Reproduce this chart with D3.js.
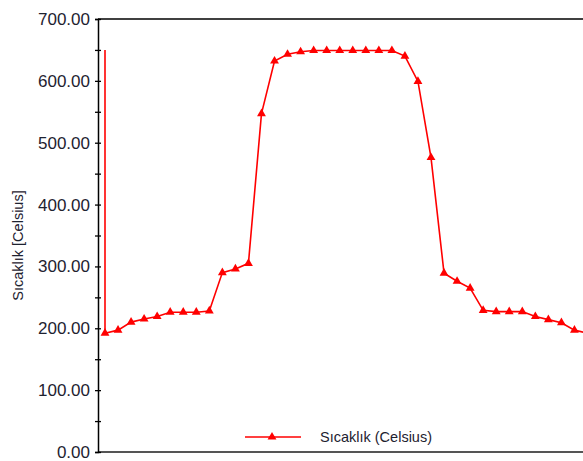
<!DOCTYPE html>
<html>
<head>
<meta charset="utf-8">
<script src="https://cdn.jsdelivr.net/npm/d3@7"></script>
<style>
  html, body { margin: 0; padding: 0; background: #fff; }
  svg { display: block; font-family: "Liberation Sans", Arial, sans-serif; }
</style>
</head>
<body>
<svg id="chart" width="583" height="461"></svg>
<script>
// temperature readings along the profile (one per station)
const temps = [192, 197, 210, 215, 219, 226, 226, 226, 228, 290, 296, 305, 547, 632, 643, 647,
               649, 649, 649, 649, 649, 649, 649, 640, 599, 476, 289, 276, 265, 229, 227, 227,
               227, 219, 214, 209, 197, 192];
// the series starts with a drop from this value at the first station
const leadValue = 650;
const yMajor = [0, 100, 200, 300, 400, 500, 600, 700];
const yMinor = [50, 150, 250, 350, 450, 550, 650];
const seriesName = "Sıcaklık (Celsius)";
const yTitle = "Sıcaklık [Celsius]";

const W = 583, H = 461;
const axisX = 98, plotTop = 19, plotBottom = 452;
const red = "#ff0000", textCol = "#1e2230";

const svg = d3.select("#chart");

const x = d3.scaleLinear().domain([0, temps.length - 1]).range([105, 105 + 13.04 * (temps.length - 1)]);
const y = d3.scaleLinear().domain([0, 700]).range([plotBottom, plotTop]);

// frame: top border + bottom line
svg.append("line").attr("x1", axisX).attr("x2", W).attr("y1", plotTop).attr("y2", plotTop)
  .attr("stroke", "#000").attr("stroke-width", 1.5);
svg.append("line").attr("x1", axisX).attr("x2", W).attr("y1", plotBottom).attr("y2", plotBottom)
  .attr("stroke", "#555").attr("stroke-width", 2);

// left axis with major labels
const yAxis = svg.append("g").attr("transform", `translate(${axisX},0)`)
  .call(d3.axisLeft(y).tickValues(yMajor).tickSize(3).tickPadding(5).tickFormat(d => d.toFixed(2)));
yAxis.select(".domain").attr("stroke", "#000").attr("stroke-width", 1.5);
yAxis.selectAll(".tick line").attr("x2", -3).attr("x1", 3).attr("stroke", "#000").attr("stroke-width", 1.3);
yAxis.selectAll(".tick text").attr("font-size", 17).attr("fill", textCol)
  .attr("font-family", "'Liberation Sans', Arial, sans-serif");

// minor ticks
const yMinorAxis = svg.append("g").attr("transform", `translate(${axisX},0)`)
  .call(d3.axisLeft(y).tickValues(yMinor).tickSize(3).tickFormat(""));
yMinorAxis.select(".domain").remove();
yMinorAxis.selectAll(".tick line").attr("x2", -3).attr("x1", 3).attr("stroke", "#000").attr("stroke-width", 1.3);

// y title
svg.append("text")
  .attr("transform", `translate(23,${(plotTop + plotBottom) / 2 + 10}) rotate(-90)`)
  .attr("text-anchor", "middle")
  .attr("font-size", 14.5).attr("fill", textCol)
  .text(yTitle);

// series
const plot = svg.append("g");
plot.append("line")
  .attr("x1", x(0)).attr("x2", x(0)).attr("y1", y(leadValue)).attr("y2", y(temps[0]))
  .attr("stroke", red).attr("stroke-width", 1.6);

const line = d3.line().x((d, i) => x(i)).y(d => y(d));
plot.append("path").datum(temps)
  .attr("d", line)
  .attr("fill", "none").attr("stroke", red).attr("stroke-width", 1.6);

const tri = d3.symbol().type(d3.symbolTriangle).size(34);
plot.selectAll("path.mk").data(temps).join("path")
  .attr("class", "mk")
  .attr("d", tri)
  .attr("transform", (d, i) => `translate(${x(i)},${y(d)})`)
  .attr("fill", red);

// legend
const lg = svg.append("g").attr("transform", "translate(245,437)");
lg.append("line").attr("x1", 0).attr("x2", 56).attr("stroke", red).attr("stroke-width", 1.6);
lg.append("path").attr("d", tri).attr("transform", "translate(27,0)").attr("fill", red);
lg.append("text").attr("x", 75).attr("y", 0).attr("dy", "0.35em")
  .attr("font-size", 14.5).attr("fill", textCol).text(seriesName);
</script>
</body>
</html>
